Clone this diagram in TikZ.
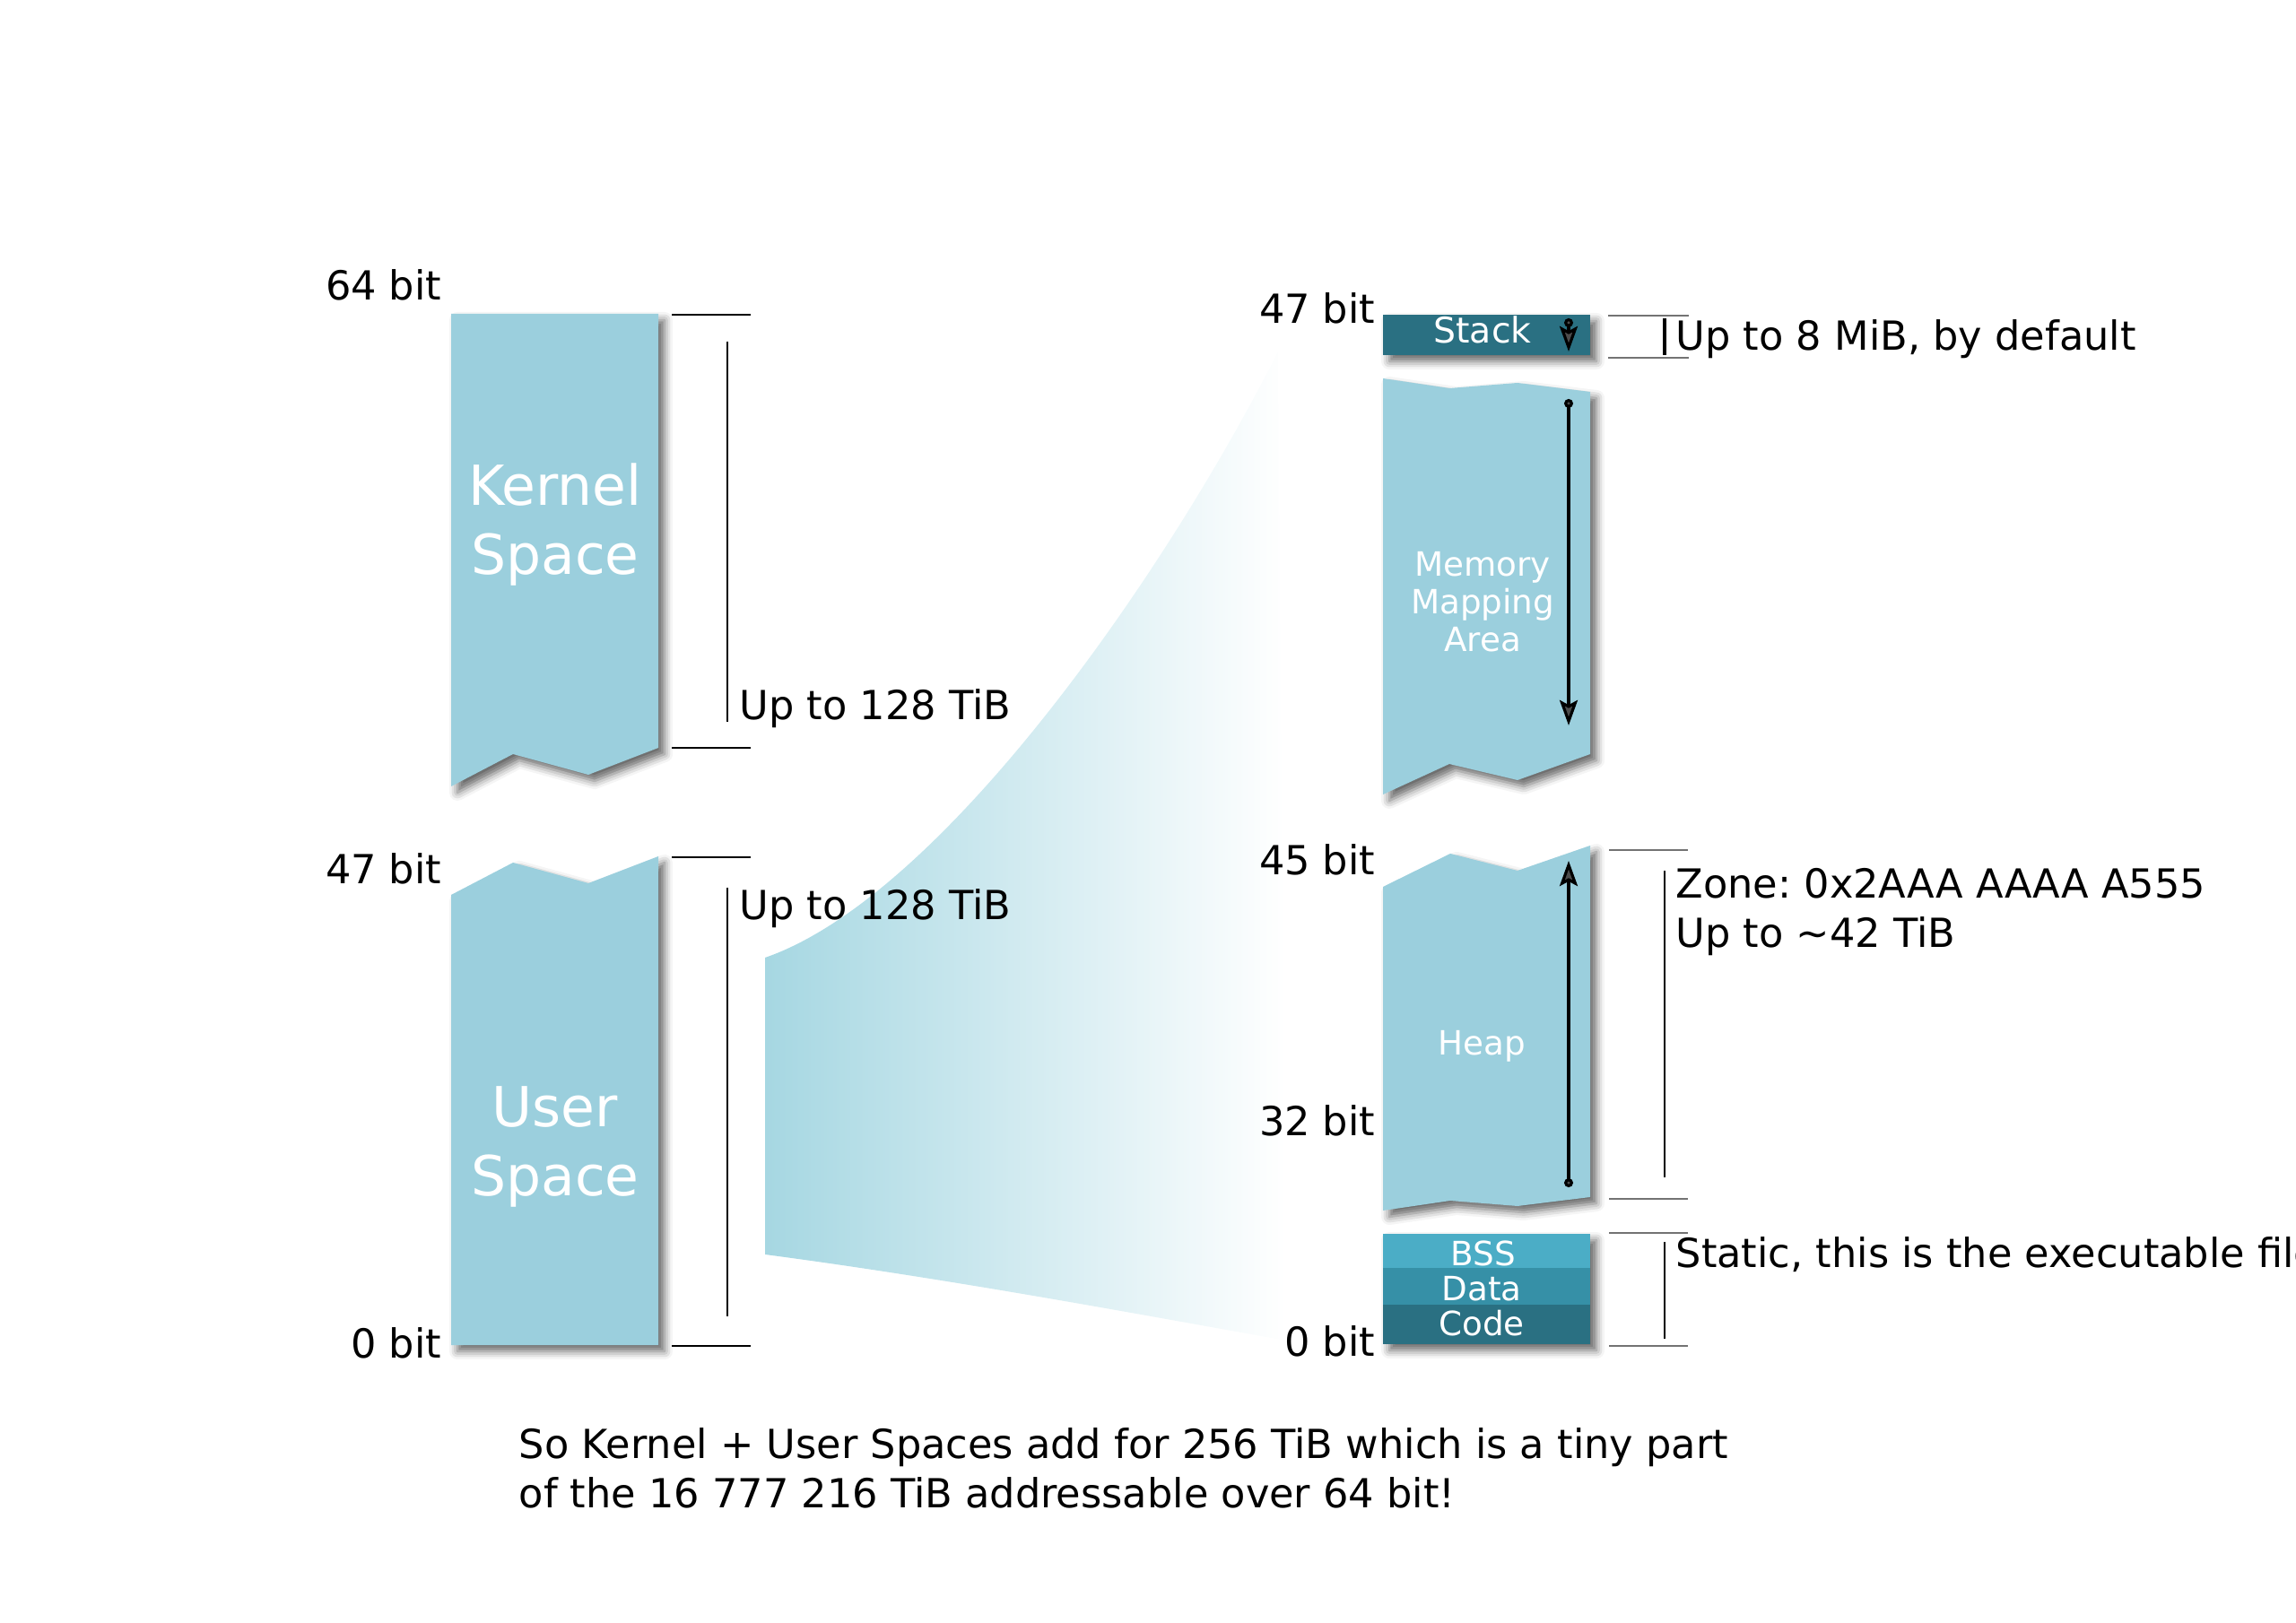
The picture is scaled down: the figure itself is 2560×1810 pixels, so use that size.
\documentclass[tikz,border=0pt]{standalone}
\usepackage{fontspec}
\setmainfont{DejaVu Sans}
\usepackage{tikz}
\usetikzlibrary{arrows.meta,shadows.blur}
\definecolor{blk}{HTML}{9BCFDD}
\definecolor{stk}{HTML}{2A7082}
\definecolor{dat}{HTML}{3690A7}
\definecolor{bss}{HTML}{4BADC6}
\definecolor{fan}{HTML}{A6D7E2}
\frenchspacing

\begin{document}
\begin{tikzpicture}[
  x=0.01cm, y=-0.01cm,
  band/.style={fill=blk, blur shadow={shadow xshift=0.7mm, shadow yshift=-0.7mm, shadow blur radius=0.9mm, shadow opacity=60}},
  lbl/.style={font=\fontsize{12.7}{15.6}\selectfont, text=black, inner sep=0pt},
  inlbl/.style={font=\fontsize{10.6}{12}\selectfont, text=white, inner sep=0pt, align=center},
  big/.style={font=\fontsize{17.5}{21.9}\selectfont, text=white, inner sep=0pt, align=center},
  brk/.style={line width=0.55pt},
  rbrk/.style={line width=0.55pt, color=black!55},
  arr/.style={{Circle[length=2.8pt]}-{Stealth[length=8pt, width=5.7pt, inset=1.5pt]}, line width=0.9pt},
]
\useasboundingbox (0,0) rectangle (2560,1810);

% zoom fan from user space to the detail
\shade[left color=fan, right color=white]
  (853,1068) .. controls (1050,1000) and (1300,640) .. (1425,392)
  -- (1434,1495) .. controls (1250,1462) and (1050,1425) .. (853,1399) -- cycle;

% left column
\fill[band] (503,350) -- (734,350) -- (734,834) -- (656,864) -- (572,841) -- (503,877) -- cycle;
\fill[band] (503,998) -- (572,962) -- (656,985) -- (734,955) -- (734,1500) -- (503,1500) -- cycle;
\node[big] (kernel) at (619,585) {Kernel\\Space};
\node[big] (user) at (619,1279) {User\\Space};

\node[lbl, anchor=base east] (b64) at (493,335) {64 bit};
\node[lbl, anchor=base east] (b47l) at (493,986) {47 bit};
\node[lbl, anchor=base east] (b0l) at (493,1514) {0 bit};

\draw[brk] (749,351) -- (837,351);
\draw[brk] (749,834) -- (837,834);
\draw[brk] (811,381) -- (811,805);
\draw[brk] (749,956) -- (837,956);
\draw[brk] (749,1501) -- (837,1501);
\draw[brk] (811,990) -- (811,1468);
\node[lbl, anchor=base west] (ksize) at (824,803) {Up to 128 TiB};
\node[lbl, anchor=base west] (usize) at (824,1026) {Up to 128 TiB};

% right column
\fill[band, fill=stk] (1542,351) rectangle (1773,396);
\fill[band] (1542,422) -- (1616,433) -- (1692,427) -- (1773,437) -- (1773,841) -- (1692,870) -- (1616,852) -- (1542,886) -- cycle;
\fill[band] (1542,989) -- (1617,952) -- (1692,971) -- (1773,943) -- (1773,1335) -- (1692,1345) -- (1617,1339) -- (1542,1350) -- cycle;
\fill[band, fill=stk] (1542,1376) rectangle (1773,1499);
\fill[bss] (1542,1376) rectangle (1773,1414);
\fill[dat] (1542,1414) rectangle (1773,1455);

\node[inlbl, anchor=base, font=\fontsize{11.2}{12}\selectfont] (stack) at (1653,383) {Stack};
\node[inlbl] (mmap) at (1653,671) {Memory\\Mapping\\Area};
\node[inlbl, anchor=base] (heap) at (1652,1177) {Heap};
\node[inlbl, anchor=base] (bss) at (1654,1411) {BSS};
\node[inlbl, anchor=base] (data) at (1652,1450) {Data};
\node[inlbl, anchor=base] (code) at (1652,1489) {Code};

\coordinate (stk1) at (1749,355);
\coordinate (stk2) at (1749,392);
\coordinate (mm1) at (1749,445);
\coordinate (mm2) at (1749,809);
\coordinate (hp1) at (1749,1324);
\coordinate (hp2) at (1749,960);
\draw[arr] (stk1) -- (stk2);
\draw[arr] (mm1) -- (mm2);
\draw[arr] (hp1) -- (hp2);

\node[lbl, anchor=base east] (b47r) at (1534,361) {47 bit};
\node[lbl, anchor=base east] (b45) at (1534,976) {45 bit};
\node[lbl, anchor=base east] (b32) at (1534,1267) {32 bit};
\node[lbl, anchor=base east] (b0r) at (1534,1512) {0 bit};

\draw[rbrk] (1793,352) -- (1883,352);
\draw[rbrk] (1793,399) -- (1883,399);
\draw[line width=1.1pt] (1856,355) -- (1856,396);
\draw[rbrk] (1794,948) -- (1882,948);
\draw[rbrk] (1794,1337) -- (1882,1337);
\draw[brk] (1856,971) -- (1856,1313);
\draw[rbrk] (1794,1375) -- (1882,1375);
\draw[rbrk] (1794,1501) -- (1882,1501);
\draw[brk] (1856,1385) -- (1856,1493);

\node[lbl, anchor=base west] (ssize) at (1868,391) {Up to 8 MiB, by default};
\node[lbl, anchor=base west] (zone) at (1868,1002) {Zone: 0x2AAA AAAA A555};
\node[lbl, anchor=base west] (hsize) at (1868,1057) {Up to \textasciitilde42 TiB};
\node[lbl, anchor=base west] (static) at (1868,1413) {Static, this is the executable file};

% note below
\node[lbl, anchor=base west] (note1) at (578,1626) {So Kernel + User Spaces add for 256 TiB which is a tiny part};
\node[lbl, anchor=base west] (note2) at (578,1681) {of the 16 777 216 TiB addressable over 64 bit!};

\end{tikzpicture}
\end{document}
